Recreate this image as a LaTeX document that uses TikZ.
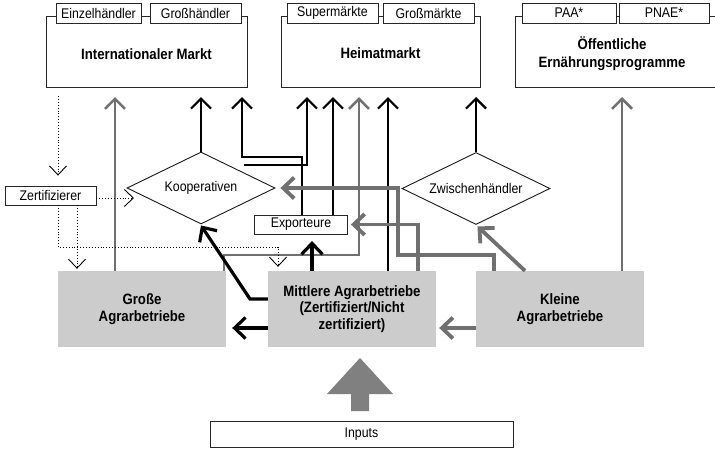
\documentclass[tikz,border=0pt]{standalone}
\usepackage{fontspec}
\setmainfont{Liberation Sans}[FakeStretch=0.88]
\usetikzlibrary{arrows.meta,shapes.geometric,calc}
\definecolor{farm}{RGB}{204,204,204}
\definecolor{lg}{RGB}{112,112,112}
\definecolor{bigarr}{RGB}{128,128,128}
\begin{document}
\begin{tikzpicture}[x=1pt,y=-1pt,
 font=\fontsize{14}{16}\selectfont,
 mkt/.style={draw=black!85, line width=0.9pt, minimum width=#1, minimum height=71pt, inner sep=0pt},
 mkttext/.style={align=center, inner sep=0pt, font=\fontsize{15}{18}\selectfont\bfseries},
 tab/.style={draw=black!85, fill=white, line width=0.9pt, minimum width=#1, minimum height=20pt, inner sep=0pt},
 lbl/.style={draw=black!85, fill=white, line width=0.9pt, minimum width=#1, minimum height=19pt, inner sep=0pt},
 dia/.style={diamond, draw=black!90, line width=0.9pt, aspect=2, minimum width=148pt, minimum height=72pt, inner sep=0pt},
 farmbox/.style={fill=farm, minimum width=168pt, minimum height=76pt, inner sep=0pt, align=center, font=\fontsize{15}{16.5}\selectfont\bfseries},
 tip/.style={-{Straight Barb[length=10pt,width=20pt]}},
 blk/.style={draw=black, line width=2.2pt, tip},
 blkb/.style={draw=black, line width=3.2pt, -{Straight Barb[length=11pt,width=21pt]}},
 gry/.style={draw=lg, line width=2.6pt, tip},
 gryb/.style={draw=lg, line width=3.8pt, -{Straight Barb[length=11pt,width=21pt]}},
 dot/.style={draw=black, dotted, line width=0.9pt, -{Straight Barb[length=9pt,width=17pt,line width=0.9pt]}}
]
\useasboundingbox (0,0) rectangle (715,448);

% markets
\node[mkt=201pt] (intl) at (146.5,51.5) {};
\node[mkt=199pt] (heim) at (380.5,51.5) {};
\node[mkt=205pt] (oeff) at (617.5,51.5) {};
\node[mkttext] (intlt) at (146.5,54.5) {Internationaler Markt};
\node[mkttext] (heimt) at (380.5,53) {Heimatmarkt};
\node[mkttext] (oefft) at (612,54) {Öffentliche\\Ernährungsprogramme};

% tabs
\node[tab=85pt] (ez) at (98.5,13) {Einzelhändler};
\node[tab=91pt] (gh) at (195.5,13) {Großhändler};
\node[tab=91pt] (sm) at (332.5,13) {Supermärkte};
\node[tab=91pt] (gm) at (428.5,13) {Großmärkte};
\node[tab=94pt] (paa) at (569,13) {PAA*};
\node[tab=90pt] (pnae) at (664,13) {PNAE*};

% middle row
\node[lbl=91pt] (zert) at (50.5,195.5) {Zertifizierer};
\node[lbl=93pt] (exp) at (301,224.5) {Exporteure};
\node[dia] (koop) at (201,188) {Kooperativen};
\node[dia] (zw) at (476,188.5) {Zwischenhändler};

% farms
\node[farmbox] (gross) at (142,309) {Große\\Agrarbetriebe};
\node[farmbox] (mitt) at (352,309) {Mittlere Agrarbetriebe\\(Zertifiziert/Nicht\\zertifiziert)};
\node[farmbox] (klein) at (560,309) {Kleine\\Agrarbetriebe};

% inputs
\node[draw=black!85, line width=0.9pt, minimum width=303pt, minimum height=26pt, inner sep=0pt] (inp) at (361.5,434) {Inputs};
\fill[bigarr] (351,411) -- (369,411) -- (369,394) -- (393,394) -- (360,358) -- (327,394) -- (351,394) -- cycle;

% coordinates
\coordinate (T) at (0,97);
\coordinate (t1) at (115,97);
\coordinate (t3) at (242,97);
\coordinate (k3) at (242,157);
\coordinate (s4) at (244,165);
\coordinate (t4) at (307,97);
\coordinate (t5) at (333,97);
\coordinate (k6) at (224,255);
\coordinate (t6) at (359,97);
\coordinate (t7) at (388,97);
\coordinate (t9) at (622,97);
\coordinate (k10) at (312,241);
\coordinate (k11) at (250,299);
\coordinate (k14) at (525,0);
\coordinate (k15a) at (494,255);
\coordinate (k15b) at (398,188);
\coordinate (k16) at (418,0);
\coordinate (d1) at (58,96);
\coordinate (d2) at (134,198);
\coordinate (d3a) at (58,247);
\coordinate (d3b) at (278,247);
\coordinate (d4) at (77,0);

% gray verticals to markets
\draw[gry] (gross.north -| t1) -- (t1);
\draw[gry] (gross.north -| k6) -- (k6) -| (t6);
\draw[gry] (klein.north -| t9) -- (t9);

% black connectors
\draw[blk] (koop.north) -- (koop.north |- T);
\draw[blk] ([xshift=1pt]exp.north) |- (k3) -- (t3);
\draw[blk] (s4) -| (t4);
\draw[blk] (exp.north -| t5) -- (t5);
\draw[blk] (mitt.north -| t7) -- (t7);
\draw[blk] (zw.north) -- (zw.north |- T);
\draw[blkb] (mitt.north -| k10) -- (k10);
\draw[blkb] ([yshift=10pt]mitt.west) -- (k11) -- ([yshift=-1pt]koop.south);
\draw[blkb, shorten >=6pt] ([yshift=-19pt]mitt.west) -- ([yshift=-19pt]gross.east);

% gray thick connectors
\draw[gryb, shorten >=3pt] ([yshift=-19pt]klein.west) -- ([yshift=-19pt]mitt.east);
\draw[gryb, shorten >=2pt] (klein.north -| k14) -- (zw.south);
\draw[gryb, shorten >=5pt] (klein.north -| k15a) -- (k15a) -| (k15b) -- (koop.east);
\draw[gryb, shorten >=3pt] (mitt.north -| k16) |- (exp.east);

% dotted
\draw[dot, shorten >=10pt] (d1) -- (d1 |- zert.north);
\draw[dot] (zert.east |- d2) -- (d2);
\draw[dot, shorten >=4pt] (zert.south -| d3a) -- (d3a) -- (d3b) -- (mitt.north -| d3b);
\draw[dot, shorten >=2pt] (zert.south -| d4) -- (gross.north -| d4);
\end{tikzpicture}
\end{document}
